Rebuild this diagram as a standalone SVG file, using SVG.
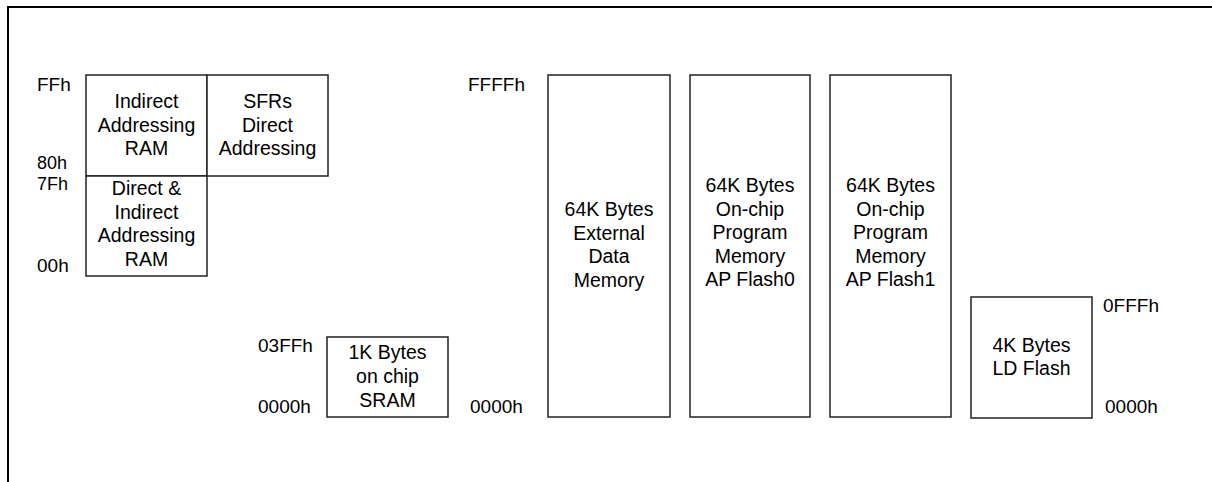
<svg xmlns="http://www.w3.org/2000/svg" width="1212" height="482" viewBox="0 0 1212 482">
<style>
.box{fill:#fff;stroke:#222;stroke-width:1.5}
text{font-family:"Liberation Sans",Arial,sans-serif;font-size:19.5px;fill:#000}
.c{text-anchor:middle}
.l{font-size:19px}
.s{font-size:18px}
</style>
<rect width="1212" height="482" fill="#fff"/>
<path d="M8,482 V7 H1212" fill="none" stroke="#000" stroke-width="2"/>
<g id="ram-upper">
<rect class="box" x="86" y="75" width="121" height="101"/>
<text class="c" x="146.5" y="108">Indirect</text>
<text class="c" x="146.5" y="131.5">Addressing</text>
<text class="c" x="146.5" y="155">RAM</text>
</g>
<g id="sfr">
<rect class="box" x="207" y="75" width="121" height="101"/>
<text class="c" x="267.5" y="108">SFRs</text>
<text class="c" x="267.5" y="131.5">Direct</text>
<text class="c" x="267.5" y="155">Addressing</text>
</g>
<g id="ram-lower">
<rect class="box" x="86" y="176" width="121" height="100"/>
<text class="c" x="146.5" y="195">Direct &amp;</text>
<text class="c" x="146.5" y="218.5">Indirect</text>
<text class="c" x="146.5" y="242">Addressing</text>
<text class="c" x="146.5" y="265.5">RAM</text>
</g>
<g id="ram-labels">
<text class="l" x="37" y="91">FFh</text>
<text class="s" x="37" y="169">80h</text>
<text class="s" x="37" y="190">7Fh</text>
<text class="l" x="37" y="272">00h</text>
</g>
<g id="sram">
<rect class="box" x="327" y="337" width="121" height="80"/>
<text class="c" x="387.5" y="359">1K Bytes</text>
<text class="c" x="387.5" y="383">on chip</text>
<text class="c" x="387.5" y="407">SRAM</text>
<text class="l" x="258" y="352">03FFh</text>
<text class="l" x="258" y="413">0000h</text>
</g>
<g id="external">
<rect class="box" x="548" y="75" width="122" height="342"/>
<text class="c" x="609" y="216">64K Bytes</text>
<text class="c" x="609" y="239.5">External</text>
<text class="c" x="609" y="263">Data</text>
<text class="c" x="609" y="286.5">Memory</text>
<text class="l" x="468" y="91">FFFFh</text>
<text class="l" x="470" y="413">0000h</text>
</g>
<g id="flash0">
<rect class="box" x="690" y="75" width="120" height="342"/>
<text class="c" x="750" y="192">64K Bytes</text>
<text class="c" x="750" y="215.5">On-chip</text>
<text class="c" x="750" y="239">Program</text>
<text class="c" x="750" y="262.5">Memory</text>
<text class="c" x="750" y="286">AP Flash0</text>
</g>
<g id="flash1">
<rect class="box" x="830" y="75" width="121" height="342"/>
<text class="c" x="890.5" y="192">64K Bytes</text>
<text class="c" x="890.5" y="215.5">On-chip</text>
<text class="c" x="890.5" y="239">Program</text>
<text class="c" x="890.5" y="262.5">Memory</text>
<text class="c" x="890.5" y="286">AP Flash1</text>
</g>
<g id="ldflash">
<rect class="box" x="971" y="297" width="121" height="121"/>
<text class="c" x="1031.5" y="352">4K Bytes</text>
<text class="c" x="1031.5" y="375">LD Flash</text>
<text class="l" x="1103" y="312">0FFFh</text>
<text class="l" x="1105" y="413">0000h</text>
</g>
<g id="connectors"></g>
</svg>
